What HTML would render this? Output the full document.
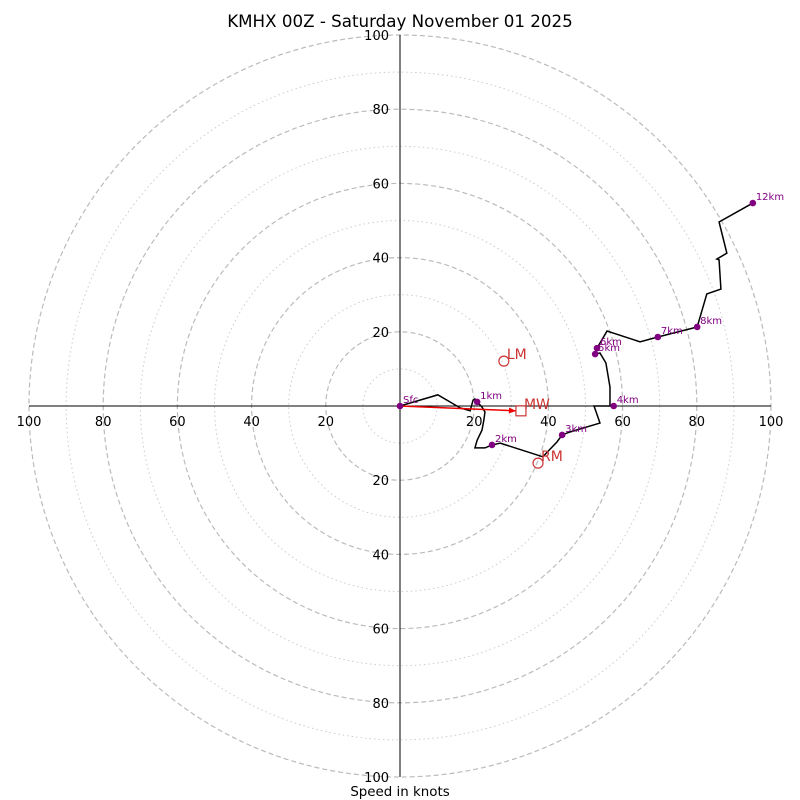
<!DOCTYPE html>
<html><head><meta charset="utf-8"><style>
body{margin:0;background:#fff}
svg{display:block;font-family:"DejaVu Sans","Liberation Sans",sans-serif}
</style></head><body>
<svg id="c" width="800" height="800" viewBox="0 0 800 800">
<text x="400" y="27" text-anchor="middle" font-size="16.7">KMHX 00Z - Saturday November 01 2025</text>
<text x="400" y="796" text-anchor="middle" font-size="13.4">Speed in knots</text>
<g id="rings"></g><g id="axes"></g><g id="plot"></g>
</svg>
<script>
const ringValues=[10,20,30,40,50,60,70,80,90,100];
const tickValues=[20,40,60,80,100];
const hodoU=[0,10.2,16.2,18.9,19.7,20.2,20.8,22.1,22.9,22.6,22.1,20.8,20.2,22.9,24.8,27.0,38.5,40.2,42.3,43.7,45.8,53.9,52.3,56.6,56.6,55.5,53.9,52.6,53.1,55.8,64.7,69.5,80.1,82.7,86.5,86.0,85.4,88.1,86.0,95.1];
const hodoV=[0,3.0,-0.5,-1.3,1.6,1.9,1.1,-0.3,-1.6,-3.8,-6.5,-9.2,-11.3,-11.3,-10.5,-10.0,-13.7,-11.9,-9.7,-7.8,-7.0,-4.6,0,0,5.1,11.6,14.3,14.0,15.6,20.2,17.3,18.6,21.3,30.2,31.5,39.4,39.6,41.2,49.6,54.7];
const levelLabels=["Sfc","1km","2km","3km","4km","5km","6km","7km","8km","12km"];
const levelU=[0,20.8,24.8,43.7,57.6,52.6,53.1,69.5,80.1,95.1];
const levelV=[0,1.1,-10.5,-7.8,0,14.0,15.6,18.6,21.3,54.7];
const stormNames=["LM","RM","MW"];
const stormU=[28.0,37.2,32.6];
const stormV=[12.1,-15.4,-1.3];

const CX=400,CY=406,S=3.71;
const sx=u=>CX+u*S, sy=v=>CY-v*S;
const NS="http://www.w3.org/2000/svg";
function mk(tag,attrs,parent){const e=document.createElementNS(NS,tag);for(const k in attrs)e.setAttribute(k,attrs[k]);parent.appendChild(e);return e;}
const rings=document.getElementById('rings'),axes=document.getElementById('axes'),plot=document.getElementById('plot');
ringValues.forEach(r=>{
  const major=r%20===0;
  const c=mk('circle',{cx:CX,cy:CY,r:r*S,fill:'none',stroke:major?'#bbb':'#ccc','stroke-width':major?1.2:1,'stroke-dasharray':major?'5,3':'1.5,3'},rings);
  
  
});
let l=mk('line',{x1:sx(-100),y1:CY,x2:sx(100),y2:CY,stroke:'#000','stroke-width':1},axes);


l=mk('line',{x1:CX,y1:sy(100),x2:CX,y2:sy(-100),stroke:'#000','stroke-width':1},axes);


tickValues.forEach(t=>{
  [1,-1].forEach(sg=>{
    let tx=mk('text',{x:sx(sg*t),y:CY+20,'text-anchor':'middle','font-size':13},axes);tx.textContent=t;
    
    
    let ty=mk('text',{x:CX-11,y:sy(sg*t)+5,'text-anchor':'end','font-size':13},axes);ty.textContent=t;
    
    
  });
});
const pts=hodoU.map((u,i)=>sx(u)+','+sy(hodoV[i])).join(' ');
const pl=mk('polyline',{points:pts,fill:'none',stroke:'#000','stroke-width':1.5,'stroke-linejoin':'miter'},plot);


const mw=2;
const ax=sx(stormU[mw]),ay=sy(stormV[mw]);
const ar=mk('line',{x1:CX,y1:CY,x2:ax-5,y2:ay,stroke:'#e00','stroke-width':1.5},plot);


const ang=Math.atan2(ay-CY,ax-5-CX);
const hx=ax-5,hy=ay;
const hd=mk('polygon',{points:`${hx},${hy} ${hx-7*Math.cos(ang)+3*Math.sin(ang)},${hy-7*Math.sin(ang)-3*Math.cos(ang)} ${hx-7*Math.cos(ang)-3*Math.sin(ang)},${hy-7*Math.sin(ang)+3*Math.cos(ang)}`,fill:'#e00'},plot);


stormNames.forEach((n,i)=>{
  const x=sx(stormU[i]),y=sy(stormV[i]);
  let m;
  if(n==='MW') m=mk('rect',{x:x-5,y:y-5,width:10,height:10,fill:'none',stroke:'#c33','stroke-width':1.2},plot);
  else m=mk('circle',{cx:x,cy:y,r:5,fill:'none',stroke:'#c33','stroke-width':1.2},plot);
  
  
  const t=mk('text',{x:x+3,y:y-2,'font-size':14,fill:'#c33'},plot);t.textContent=n;
  
  
});
levelLabels.forEach((n,i)=>{
  const x=sx(levelU[i]),y=sy(levelV[i]);
  const c=mk('circle',{cx:x,cy:y,r:3.3,fill:'#800080'},plot);
  
  
  const t=mk('text',{x:x+3,y:y-3,'font-size':10,fill:'#800080'},plot);t.textContent=n;
  
  
});
</script>
</body></html>
